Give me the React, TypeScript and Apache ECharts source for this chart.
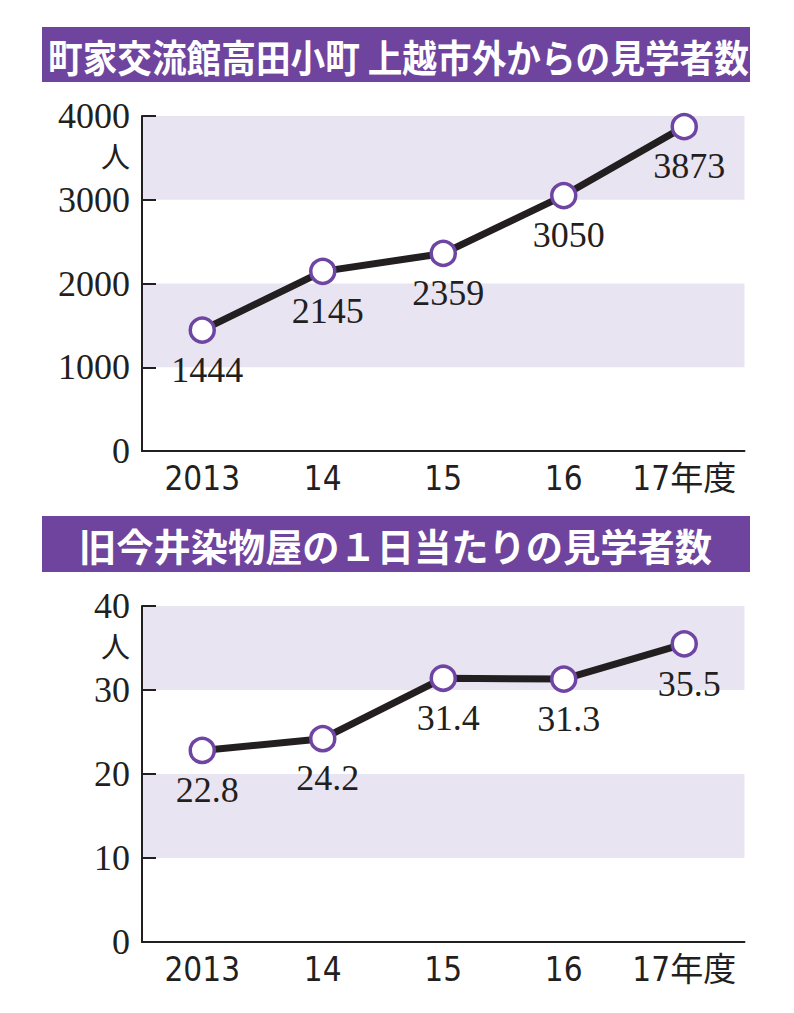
import React, { useEffect, useRef } from "react";
import * as echarts from "echarts";

const categories = ["2013", "14", "15", "16", "17年度"];
const visitorsOutside = [1444, 2145, 2359, 3050, 3873];
const visitorsPerDay = [22.8, 24.2, 31.4, 31.3, 35.5];
const title1 = "町家交流館高田小町 上越市外からの見学者数";
const title2 = "旧今井染物屋の１日当たりの見学者数";
const yUnit = "人";

const INK = "#231f20";
const PURPLE = "#6e449e";
const BAND = "#e9e4f2";
const SERIF = "'Liberation Serif', 'Times New Roman', serif";
const NARROW = "'Liberation Sans Narrow', 'DejaVu Sans Condensed', 'Noto Sans CJK JP', sans-serif";
const CJK = "'Noto Sans CJK JP', sans-serif";

function xAxisCfg(gridIndex: number) {
  return {
    type: "category",
    gridIndex,
    data: categories,
    boundaryGap: true,
    axisLine: { lineStyle: { color: INK, width: 2 } },
    axisTick: { alignWithLabel: true, inside: true, length: 8, lineStyle: { color: INK, width: 2 } },
    axisLabel: { interval: 0, color: INK, fontFamily: NARROW, fontSize: 33, margin: 11 },
    splitLine: { show: false },
  };
}

function yAxisCfg(gridIndex: number, max: number, interval: number) {
  return {
    type: "value",
    gridIndex,
    min: 0,
    max,
    interval,
    axisLine: { show: true, lineStyle: { color: INK, width: 2 } },
    axisTick: { show: true, inside: true, length: 14, lineStyle: { color: INK, width: 2 } },
    axisLabel: {
      color: INK,
      fontFamily: SERIF,
      fontSize: 36,
      margin: 12,
      lineHeight: 30,
      formatter: (v: number) => String(v),
    },
    splitLine: { show: false },
    splitArea: { show: true, areaStyle: { color: ["rgba(255,255,255,0)", BAND] } },
  };
}

function seriesCfg(idx: number, data: number[]) {
  return {
    type: "line",
    xAxisIndex: idx,
    yAxisIndex: idx,
    data,
    symbol: "circle",
    symbolSize: 24,
    lineStyle: { color: INK, width: 7 },
    itemStyle: { color: "#ffffff", borderColor: "#6f45a3", borderWidth: 3.5 },
    label: {
      show: true,
      position: "bottom",
      distance: 8,
      offset: [5, 0],
      color: INK,
      fontFamily: SERIF,
      fontSize: 36,
    },
    z: 3,
  };
}

export default function App() {
  const ref = useRef<HTMLDivElement>(null);
  useEffect(() => {
    if (!ref.current) return;
    const chart = echarts.init(ref.current, undefined, { renderer: "svg" });
    chart.setOption({
      animation: false,
      backgroundColor: "#ffffff",
      grid: [
        { left: 142, top: 116, width: 602.5, height: 335 },
        { left: 142, top: 606, width: 602.5, height: 336 },
      ],
      xAxis: [xAxisCfg(0), xAxisCfg(1)],
      yAxis: [yAxisCfg(0, 4000, 1000), yAxisCfg(1, 40, 10)],
      series: [seriesCfg(0, visitorsOutside), seriesCfg(1, visitorsPerDay)],
      graphic: [
        { type: "rect", shape: { x: 42, y: 27, width: 708, height: 55 }, style: { fill: PURPLE } },
        {
          type: "text",
          x: 48,
          y: 55,
          scaleX: 0.912,
          style: { text: title1, fill: "#ffffff", font: `bold 38px ${CJK}`, verticalAlign: "middle", align: "left" },
        },
        { type: "rect", shape: { x: 42, y: 516, width: 708, height: 56 }, style: { fill: PURPLE } },
        {
          type: "text",
          x: 79,
          y: 544,
          scaleX: 0.98,
          style: { text: title2, fill: "#ffffff", font: `bold 38px ${CJK}`, verticalAlign: "middle", align: "left" },
        },
        {
          type: "text",
          x: 130,
          y: 155,
          style: { text: yUnit, fill: INK, font: `29px ${CJK}`, lineHeight: 29, verticalAlign: "middle", align: "right" },
        },
        {
          type: "text",
          x: 130,
          y: 645,
          style: { text: yUnit, fill: INK, font: `29px ${CJK}`, lineHeight: 29, verticalAlign: "middle", align: "right" },
        },
      ],
    });
    return () => chart.dispose();
  }, []);
  return <div ref={ref} style={{ position: "absolute", left: 0, top: 0, width: 794, height: 1013 }} />;
}
